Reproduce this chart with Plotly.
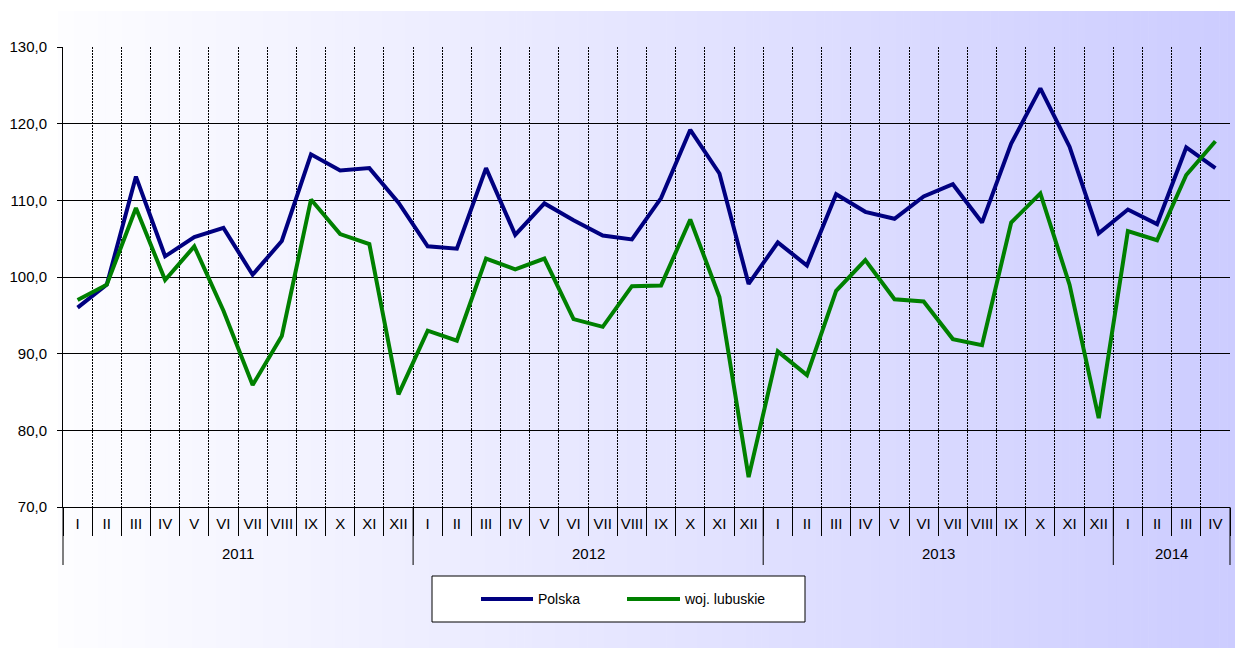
import plotly.graph_objects as go

# ---------------- data ----------------
months = ["I", "II", "III", "IV", "V", "VI", "VII", "VIII", "IX", "X", "XI", "XII"]
years = ["2011", "2012", "2013", "2014"]
months_per_year = [12, 12, 12, 4]
month_labels = months * 3 + months[:4]

polska = [96.0, 99.0, 113.1, 102.7, 105.2, 106.4, 100.3, 104.7, 116.0, 113.9, 114.2, 109.7,
          104.0, 103.7, 114.2, 105.5, 109.6, 107.4, 105.4, 104.9, 110.3, 119.2, 113.5, 99.1,
          104.5, 101.5, 110.8, 108.5, 107.6, 110.5, 112.1, 107.1, 117.4, 124.6, 117.0, 105.7,
          108.8, 106.9, 116.9, 114.2]
lubuskie = [97.0, 99.0, 109.0, 99.6, 104.0, 95.6, 85.9, 92.3, 110.1, 105.6, 104.3, 84.7,
            93.0, 91.7, 102.4, 101.0, 102.4, 94.5, 93.5, 98.8, 98.9, 107.5, 97.4, 73.9,
            90.3, 87.2, 98.2, 102.2, 97.1, 96.8, 91.9, 91.1, 107.1, 110.9, 99.0, 81.6,
            106.0, 104.8, 113.3, 117.7]
series_names = ["Polska", "woj. lubuskie"]
series_colors = ["#000080", "#008000"]

n = len(month_labels)
xs = list(range(n))

# ---------------- geometry (page pixels) ----------------
OFF = 8                      # default body margin of the html page
PW, PH = 1243, 648
W, H = PW - OFF, PH - OFF    # figure size
L, R, T, B = 63, 1230, 47, 507   # plot area edges in page pixels

def px_x(px):
    return (px - L) / (R - L)

def px_y(py):
    return (B - py) / (B - T)

FONT = "Liberation Sans, Arial"

fig = go.Figure()
for name, vals, col in zip(series_names, [polska, lubuskie], series_colors):
    fig.add_trace(go.Scatter(x=xs, y=vals, mode="lines", name=name,
                             line=dict(color=col, width=4), showlegend=False))

shapes = []
# background gradient
NG = 150
gx0, gx1, gy0 = 58, PW, 11
c0 = (253, 253, 255)
c1 = (204, 204, 255)
for k in range(NG):
    a = gx0 + (gx1 - gx0) * k / NG
    b = gx0 + (gx1 - gx0) * (k + 1) / NG + 0.6
    t = (k + 0.5) / NG
    c = tuple(round(c0[j] + (c1[j] - c0[j]) * t) for j in range(3))
    shapes.append(dict(type="rect", xref="paper", yref="paper", layer="below",
                       x0=px_x(a), x1=px_x(b), y0=px_y(gy0), y1=px_y(PH),
                       line=dict(width=0), fillcolor="rgb(%d,%d,%d)" % c))

# year separators below the axis
bounds = [0]
for m in months_per_year:
    bounds.append(bounds[-1] + m)
for bd in bounds:
    xp = bd / n
    shapes.append(dict(type="line", xref="paper", yref="paper", layer="above",
                       x0=xp, x1=xp, y0=0, y1=px_y(565),
                       line=dict(color="#000000", width=1)))

# legend box
shapes.append(dict(type="rect", xref="paper", yref="paper", layer="above",
                   x0=px_x(432), x1=px_x(805), y0=px_y(576), y1=px_y(622),
                   line=dict(color="#000000", width=1), fillcolor="#ffffff"))
leg_pos = [(481, 533, 536), (627, 680, 682)]
annotations = []
for (l0, l1, tx), name, col in zip(leg_pos, series_names, series_colors):
    shapes.append(dict(type="line", xref="paper", yref="paper", layer="above",
                       x0=px_x(l0), x1=px_x(l1), y0=px_y(599), y1=px_y(599),
                       line=dict(color=col, width=4)))
    annotations.append(dict(text=name, xref="paper", yref="paper", x=px_x(tx), y=px_y(599),
                            xanchor="left", yanchor="middle", showarrow=False,
                            font=dict(family=FONT, size=14, color="#000000")))

# year labels
for i, yr in enumerate(years):
    center = (bounds[i] + bounds[i + 1]) / 2 / n
    annotations.append(dict(text=yr, xref="paper", yref="paper", x=center, y=px_y(553),
                            xanchor="center", yanchor="middle", showarrow=False,
                            font=dict(family=FONT, size=15, color="#000000")))

fig.update_layout(
    width=W, height=H,
    margin=dict(l=L - OFF, r=PW - R, t=T - OFF, b=PH - B, pad=0),
    paper_bgcolor="#ffffff",
    plot_bgcolor="rgba(0,0,0,0)",
    separators=", ",
    font=dict(family=FONT, size=15, color="#000000"),
    shapes=shapes,
    annotations=annotations,
    showlegend=False,
)
fig.update_xaxes(
    range=[-0.5, n - 0.5], automargin=False,
    tickmode="array", tickvals=xs, ticktext=month_labels,
    ticks="", showgrid=False, zeroline=False,
    showline=True, linecolor="#000000", linewidth=1,
    ticklabelstandoff=3,
    tickfont=dict(family=FONT, size=15, color="#000000"),
    minor=dict(tick0=-0.5, dtick=1, showgrid=True, gridcolor="#000000",
               griddash="2px,1px", gridwidth=1, ticks="outside", ticklen=28,
               tickcolor="#000000", tickwidth=1),
)
fig.update_yaxes(
    range=[70, 130], dtick=10, tick0=70, tickformat=".1f", automargin=False,
    showgrid=True, gridcolor="#000000", gridwidth=1, zeroline=False,
    showline=True, linecolor="#000000", linewidth=1,
    ticks="outside", ticklen=5, tickcolor="#000000",
    ticklabelstandoff=7,
    tickfont=dict(family=FONT, size=15, color="#000000"),
)

fig.write_html("out.html")
